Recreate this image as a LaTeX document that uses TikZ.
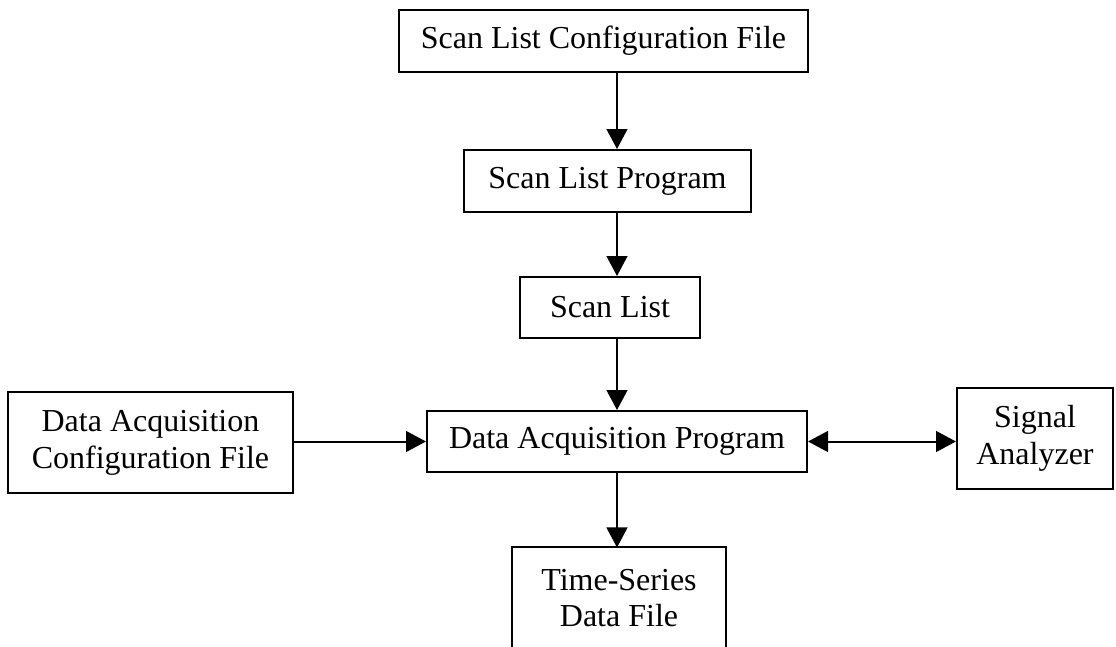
\documentclass[tikz,border=0pt]{standalone}
\usepackage{fontspec}
\setmainfont{Liberation Serif}
\usetikzlibrary{arrows.meta}
\begin{document}
\begin{tikzpicture}[x=0.375pt,y=-0.375pt,
  box/.style={draw, line width=0.75pt, inner sep=0pt, align=center,
    font=\fontsize{12}{13.8}\selectfont},
  openbox/.style={inner sep=0pt, align=center,
    font=\fontsize{12}{13.8}\selectfont},
  arr/.style={line width=0.75pt, -{Triangle[length=7.5pt,width=7.8pt]}},
  biarr/.style={line width=0.75pt, {Triangle[length=7.5pt,width=7.8pt]}-{Triangle[length=7.5pt,width=7.8pt]}}]
\fill[white] (0,0) rectangle (1116,647);
\useasboundingbox (0,0) rectangle (1116,647);
\clip (0,0) rectangle (1116,647);
\node[box, minimum width=153.375pt, minimum height=23.25pt] (cfg) at (603.5,41) {Scan List Configuration File};
\node[box, minimum width=107.625pt, minimum height=23.25pt] (slp) at (607.5,181) {Scan List Program};
\node[box, minimum width=67.5pt, minimum height=22.875pt] (sl) at (610,307.5) {Scan List};
\node[box, minimum width=142.5pt, minimum height=22.875pt] (dap) at (617,441.5) {Data Acquisition Program};
\node[box, minimum width=106.875pt, minimum height=37.875pt] (dacf) at (150.5,442.5) {Data Acquisition\\Configuration File};
\node[box, minimum width=58.5pt, minimum height=37.875pt] (sa) at (1035,438.5) {Signal\\Analyzer};
\node[openbox, minimum width=79.5pt, minimum height=37.5pt] (ts) at (619,598) {Time-Series\\Data File};
\draw[line width=0.75pt] ([yshift=-3pt]ts.south west) -- (ts.north west) -- (ts.north east) -- ([yshift=-3pt]ts.south east);
\draw[arr] (cfg.south -| dap.north) -- (slp.north -| dap.north);
\draw[arr] (slp.south -| dap.north) -- (sl.north -| dap.north);
\draw[arr] (sl.south -| dap.north) -- (dap.north);
\draw[arr] (dap.south) -- (ts.north -| dap.south);
\draw[arr] (dacf.east |- dap.west) -- (dap.west);
\draw[biarr] (dap.east) -- (dap.east -| sa.west);
\end{tikzpicture}
\end{document}
